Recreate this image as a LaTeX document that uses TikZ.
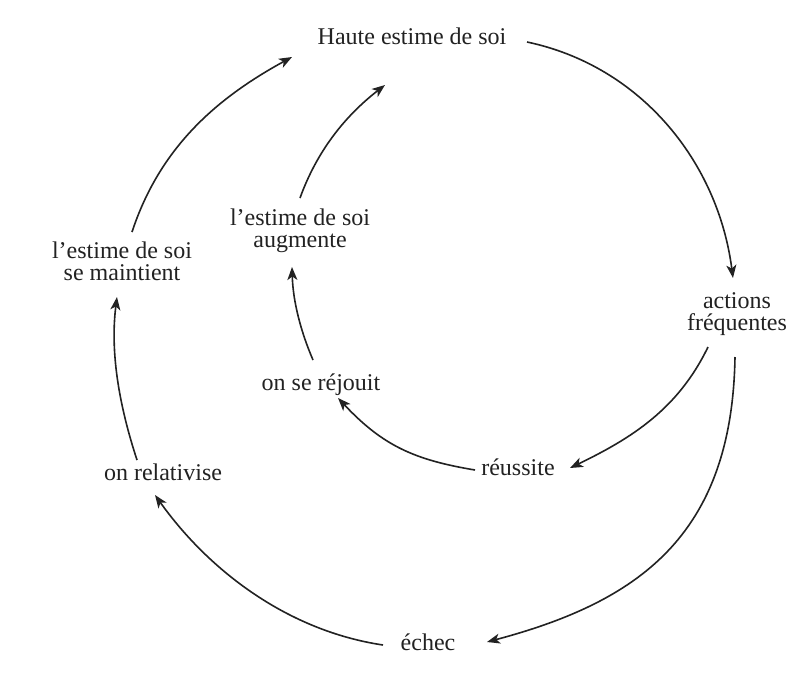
\documentclass[tikz,border=0pt]{standalone}
\usepackage{fontspec}
\setmainfont{Liberation Serif}
\usetikzlibrary{arrows.meta}
\definecolor{ink}{HTML}{222222}
\tikzset{
  lbl/.style={anchor=base, align=center, inner sep=0pt, text=ink,
    font=\fontsize{24}{22}\selectfont},
  arr/.style={draw=ink, line width=1.6pt, -{Stealth[length=13pt,width=10pt,inset=3.5pt]}},
}
\begin{document}
\begin{tikzpicture}[x=1pt,y=-1pt]
\useasboundingbox[fill=white] (0,0) rectangle (804,673);
\node[lbl] (haute) at (412,44) {Haute estime de soi};
\node[lbl] (maint) at (122,280) {l’estime de soi\\se maintient};
\node[lbl] (augm) at (300,247) {l’estime de soi\\augmente};
\node[lbl] (actions) at (737,330) {actions\\fréquentes};
\node[lbl] (rejouit) at (321,390) {on se réjouit};
\node[lbl] (reussite) at (518,475) {réussite};
\node[lbl] (relat) at (163,480) {on relativise};
\node[lbl] (echec) at (428,650) {échec};
% Haute -> actions
\draw[arr] ([shift={(115,-2)}]haute.base) .. controls +(114,24) and +(-15,-116) .. ([shift={(-4,-52)}]actions.base);
% actions -> reussite
\draw[arr] ([shift={(-29,17)}]actions.base) .. controls +(-30,62) and +(62,-30) .. ([shift={(52,-7)}]reussite.base);
% actions -> echec
\draw[arr] ([shift={(-2,27)}]actions.base) .. controls +(-3,180) and +(150,-40) .. ([shift={(59,-8)}]echec.base);
% reussite -> on se rejouit
\draw[arr] ([shift={(-43,-5)}]reussite.base) .. controls +(-60,-10) and +(45,48) .. ([shift={(17,8)}]rejouit.base);
% on se rejouit -> augmente
\draw[arr] ([shift={(-8,-30)}]rejouit.base) .. controls +(-12,-28) and +(1,35) .. ([shift={(-8,20)}]augm.base);
% augmente -> haute
\draw[arr] ([shift={(0,-49)}]augm.base) .. controls +(17,-47) and +(-40,31) .. ([shift={(-27,41)}]haute.base);
% echec -> on relativise
\draw[arr] ([shift={(-45,-5)}]echec.base) .. controls +(-94,-14) and +(55,77) .. ([shift={(-8,15)}]relat.base);
% on relativise -> se maintient
\draw[arr] ([shift={(-26,-20)}]relat.base) .. controls +(-18,-55) and +(-7,55) .. ([shift={(-5,17)}]maint.base);
% se maintient -> haute
\draw[arr] ([shift={(10,-48)}]maint.base) .. controls +(28,-85) and +(-75,41) .. ([shift={(-120,13)}]haute.base);
\end{tikzpicture}
\end{document}
